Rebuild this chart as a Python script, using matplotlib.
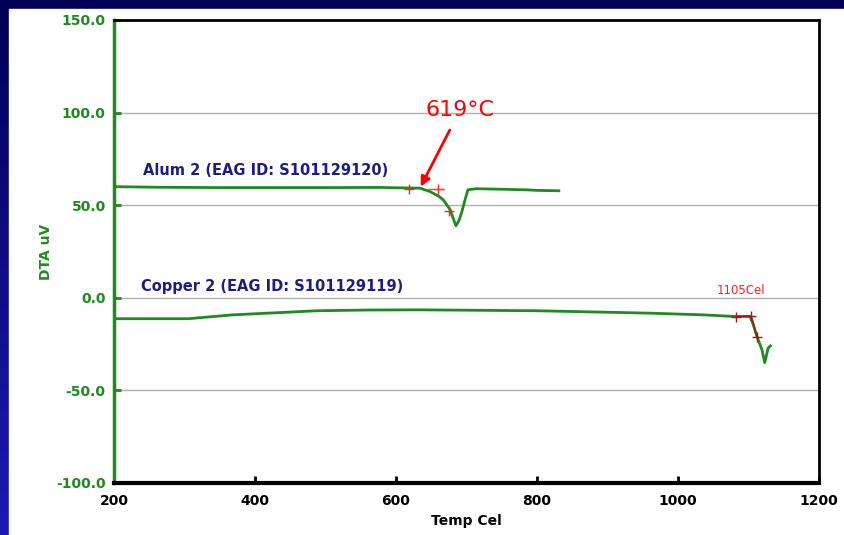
import numpy as np
import matplotlib.pyplot as plt
from matplotlib.patches import Rectangle

# DTA traces
alum_temp = [200, 223, 260, 350, 400, 500, 577, 600, 620, 634, 648, 660, 667, 677, 681, 685, 689, 693, 698, 702, 714, 750, 785, 800, 831]
alum_dta = [60.0, 59.9, 59.7, 59.5, 59.5, 59.5, 59.6, 59.4, 59.3, 59.2, 57.4, 55.0, 52.9, 47.5, 43.0, 38.9, 41.5, 45.9, 53.0, 58.3, 58.9, 58.6, 58.3, 58.0, 57.8]

copper_temp = [200, 305, 369, 450, 488, 560, 634, 700, 800, 900, 960, 1035, 1081, 1102, 1106, 1112, 1119, 1123, 1128, 1131]
copper_dta = [-11.3, -11.3, -9.2, -7.7, -7.0, -6.6, -6.5, -6.7, -7.0, -7.8, -8.3, -9.2, -10.1, -10.1, -13.6, -20.9, -28.0, -35.0, -27.0, -26.0]

alum_mark_t = [618, 660, 675]
alum_mark_v = [58.8, 58.7, 47.1]
copper_mark_t = [1082, 1104, 1112]
copper_mark_v = [-10.1, -9.8, -20.9]

yticks = [-100, -50, 0, 50, 100, 150]
xticks = [200, 400, 600, 800, 1000, 1200]

green = '#1f8a1f'
navy = '#1c1c84'

fig = plt.figure(figsize=(8.44, 5.35), dpi=100)

# slide-style background: dark blue gradient with a white panel
bg = fig.add_axes([0, 0, 1, 1], zorder=-10)
grad = np.linspace(0, 1, 256).reshape(-1, 1)
bg.imshow(grad, aspect='auto', extent=[0, 1, 0, 1],
          cmap=plt.matplotlib.colors.LinearSegmentedColormap.from_list('bgc', ['#000055', '#1a1ab4']))
bg.add_patch(Rectangle((9 / 844, 0), 1, 1 - 9 / 535, color='white', zorder=2))
bg.set_xlim(0, 1)
bg.set_ylim(0, 1)
bg.axis('off')

ax = fig.add_axes([114 / 844, 1 - 483 / 535, 705 / 844, 463 / 535])
ax.set_facecolor('white')

ax.plot(alum_temp, alum_dta, color=green, lw=2)
ax.plot(copper_temp, copper_dta, color=green, lw=2)
ax.plot(alum_mark_t, alum_mark_v, '+', color='#ff2020', ms=7, mew=1)
ax.plot([645, 668], [58.7, 58.7], color='#ff4040', lw=1)
ax.plot(copper_mark_t, copper_mark_v, color='#b01010', lw=1, marker='+', ms=7, mew=1)

ax.text(241, 68.6, 'Alum 2 (EAG ID: S101129120)', color=navy, fontsize=10.5,
        fontweight='bold', va='center')
ax.text(238, 6, 'Copper 2 (EAG ID: S101129119)', color=navy, fontsize=10.5,
        fontweight='bold', va='center')
ax.text(1090, 4, '1105Cel', color='#ff2020', fontsize=8.5, ha='center', va='center')
ax.annotate('619°C', xy=(635, 60), xytext=(691, 101.5), color='red', fontsize=16,
            ha='center', va='center',
            arrowprops=dict(arrowstyle='-|>', color='red', lw=2, mutation_scale=14,
                            shrinkA=6, shrinkB=0))

ax.set_xlim(200, 1200)
ax.set_ylim(-100, 150)
ax.set_xticks(xticks)
ax.set_yticks(yticks)
ax.set_yticklabels([f'{v:.1f}' for v in yticks])
ax.grid(axis='y', color='#b0b0b0', lw=1)
ax.set_axisbelow(True)

ax.tick_params(axis='y', direction='in', length=5, width=2, color=green,
               labelcolor=green, labelsize=10, pad=6)
ax.tick_params(axis='x', direction='in', length=5, width=2, color='black',
               labelcolor='black', labelsize=10, pad=8)
for lab in ax.get_xticklabels() + ax.get_yticklabels():
    lab.set_fontweight('bold')

ax.spines['left'].set_color(green)
ax.spines['left'].set_linewidth(2.5)
ax.spines['bottom'].set_color('black')
ax.spines['bottom'].set_linewidth(3)
ax.spines['top'].set_linewidth(2)
ax.spines['right'].set_linewidth(2)

ax.set_ylabel('DTA uV', color=green, fontsize=10, fontweight='bold', labelpad=2)
ax.set_xlabel('Temp Cel', color='black', fontsize=10, fontweight='bold', labelpad=4)

fig.savefig('out.png', dpi=100)
